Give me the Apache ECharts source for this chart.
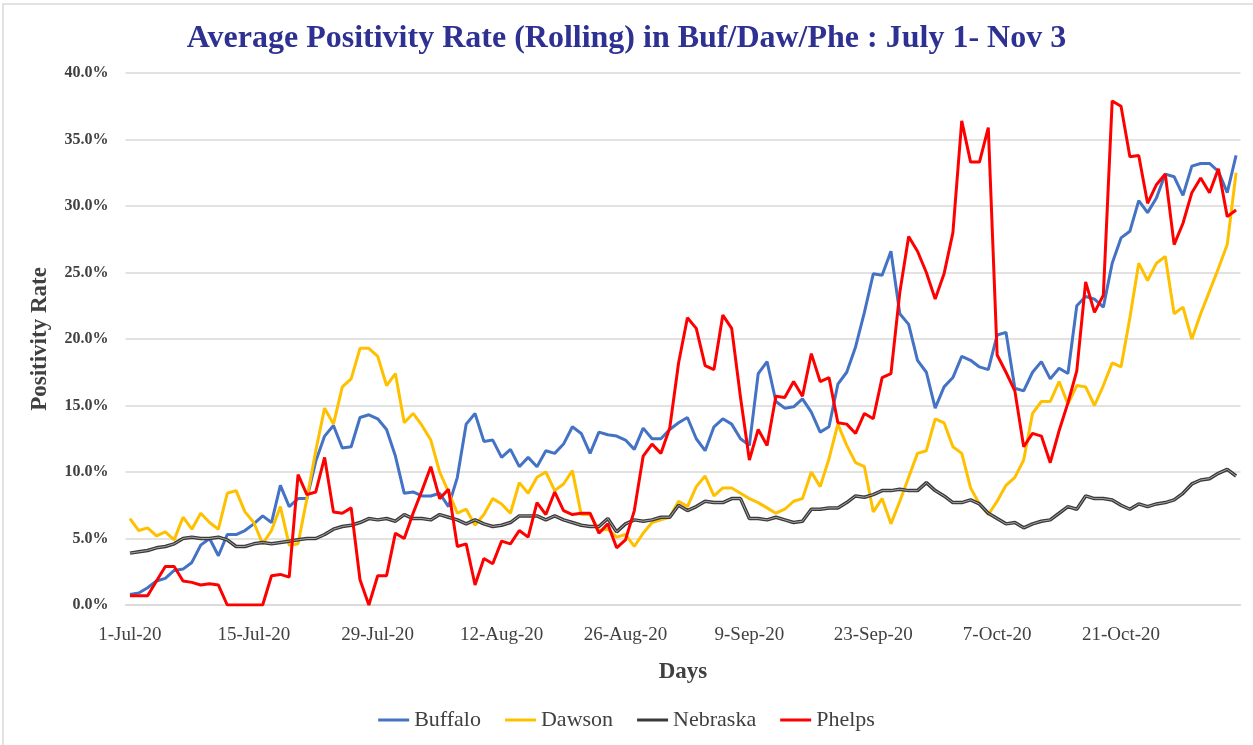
<!DOCTYPE html>
<html>
<head>
<meta charset="utf-8">
<script src="https://cdn.jsdelivr.net/npm/echarts@6/dist/echarts.min.js"></script>
<style>
  html, body { margin: 0; padding: 0; background: #fff; }
  #chart { width: 1253px; height: 745px; }
</style>
</head>
<body>
<div id="chart"></div>
<script>
// days from 1 Jul 2020 to 3 Nov 2020
const monthNames = ['Jan', 'Feb', 'Mar', 'Apr', 'May', 'Jun', 'Jul', 'Aug', 'Sep', 'Oct', 'Nov', 'Dec'];
const days = [];
for (let i = 0; i < 126; i++) {
  const d = new Date(2020, 6, 1 + i);
  days.push(d.getDate() + '-' + monthNames[d.getMonth()] + '-20');
}

const seriesNames = ['Buffalo', 'Dawson', 'Nebraska', 'Phelps'];

const buffalo = [
  0.8, 0.9, 1.3, 1.8, 2.0, 2.6, 2.7, 3.2, 4.5, 5.0, 3.7, 5.3, 5.3, 5.6, 6.1, 6.7, 6.2, 9.0, 7.4, 8.0, 8.0, 10.8,
  12.7, 13.5, 11.8, 11.9, 14.1, 14.3, 14.0, 13.2, 11.2, 8.4, 8.5, 8.2, 8.2, 8.4, 7.4, 9.6, 13.6, 14.4, 12.3, 12.4, 11.1, 11.7,
  10.4, 11.1, 10.4, 11.6, 11.4, 12.1, 13.4, 12.9, 11.4, 13.0, 12.8, 12.7, 12.4, 11.7, 13.3, 12.5, 12.5, 13.2, 13.7, 14.1, 12.5,
  11.6, 13.4, 14.0, 13.6, 12.5, 12.0, 17.4, 18.3, 15.3, 14.8, 14.9, 15.5, 14.5, 13.0, 13.4, 16.6, 17.5, 19.4, 22.0, 24.9, 24.8, 26.6,
  21.9, 21.1, 18.4, 17.5, 14.8, 16.4, 17.1, 18.7, 18.4, 17.9, 17.7, 20.3, 20.5, 16.3, 16.1, 17.5, 18.3, 17.0, 17.8, 17.4, 22.5,
  23.2, 23.0, 22.4, 25.7, 27.6, 28.1, 30.4, 29.5, 30.6, 32.4, 32.2, 30.8, 33.0, 33.2, 33.2, 32.6, 31.0, 33.8
];

const dawson = [
  6.5, 5.6, 5.8, 5.2, 5.5, 4.9, 6.6, 5.7, 6.9, 6.2, 5.7, 8.4, 8.6, 7.0, 6.2, 4.6, 5.6, 7.4, 4.5, 4.6, 8.0, 11.6,
  14.8, 13.6, 16.4, 17.0, 19.3, 19.3, 18.7, 16.5, 17.4, 13.7, 14.4, 13.5, 12.4, 10.0, 8.5, 6.9, 7.2, 6.0, 6.8, 8.0, 7.6, 6.9,
  9.2, 8.4, 9.6, 10.0, 8.6, 9.1, 10.1, 6.8, 6.8, 5.6, 5.7, 5.1, 5.3, 4.4, 5.4, 6.2, 6.4, 6.6, 7.8, 7.4, 8.9,
  9.7, 8.2, 8.8, 8.8, 8.4, 8.0, 7.7, 7.3, 6.9, 7.2, 7.8, 8.0, 10.0, 8.9, 11.0, 13.6, 12.0, 10.7, 10.4, 7.0, 8.0, 6.1,
  7.8, 9.6, 11.4, 11.6, 14.0, 13.7, 11.9, 11.4, 8.8, 7.6, 6.8, 7.8, 9.0, 9.6, 10.9, 14.4, 15.3, 15.3, 16.8, 15.1, 16.5,
  16.4, 15.0, 16.5, 18.2, 17.9, 21.6, 25.7, 24.4, 25.7, 26.2, 21.9, 22.4, 20.0, 21.9, 23.6, 25.3, 27.1, 32.5
];

const nebraska = [
  3.9, 4.0, 4.1, 4.3, 4.4, 4.6, 5.0, 5.1, 5.0, 5.0, 5.1, 4.9, 4.4, 4.4, 4.6, 4.7, 4.6, 4.7, 4.8, 4.9, 5.0, 5.0,
  5.3, 5.7, 5.9, 6.0, 6.2, 6.5, 6.4, 6.5, 6.3, 6.8, 6.5, 6.5, 6.4, 6.8, 6.6, 6.4, 6.1, 6.4, 6.1, 5.9, 6.0, 6.2,
  6.7, 6.7, 6.7, 6.4, 6.7, 6.4, 6.2, 6.0, 5.9, 5.9, 6.5, 5.5, 6.1, 6.4, 6.3, 6.4, 6.6, 6.6, 7.5, 7.1, 7.4,
  7.8, 7.7, 7.7, 8.0, 8.0, 6.5, 6.5, 6.4, 6.6, 6.4, 6.2, 6.3, 7.2, 7.2, 7.3, 7.3, 7.7, 8.2, 8.1, 8.3, 8.6, 8.6,
  8.7, 8.6, 8.6, 9.2, 8.6, 8.2, 7.7, 7.7, 7.9, 7.6, 6.9, 6.5, 6.1, 6.2, 5.8, 6.1, 6.3, 6.4, 6.9, 7.4, 7.2,
  8.2, 8.0, 8.0, 7.9, 7.5, 7.2, 7.6, 7.4, 7.6, 7.7, 7.9, 8.4, 9.1, 9.4, 9.5, 9.9, 10.2, 9.7
];

const phelps = [
  0.7, 0.7, 0.7, 1.8, 2.9, 2.9, 1.8, 1.7, 1.5, 1.6, 1.5, 0, 0, 0, 0, 0, 2.2, 2.3, 2.1, 9.8, 8.3, 8.5,
  11.1, 7.0, 6.9, 7.3, 1.9, 0, 2.2, 2.2, 5.4, 5.0, 6.9, 8.6, 10.4, 8.0, 8.7, 4.4, 4.6, 1.5, 3.5, 3.1, 4.8, 4.6,
  5.6, 5.1, 7.7, 6.8, 8.5, 7.1, 6.8, 6.9, 6.9, 5.4, 6.1, 4.3, 4.9, 7.1, 11.2, 12.1, 11.4, 13.3, 18.2, 21.6, 20.8,
  18.0, 17.7, 21.8, 20.8, 15.6, 10.9, 13.2, 12.0, 15.7, 15.6, 16.8, 15.7, 18.9, 16.8, 17.1, 13.7, 13.6, 12.9, 14.4, 14.0, 17.1, 17.4,
  23.5, 27.7, 26.6, 25.0, 23.0, 24.9, 28.0, 36.4, 33.3, 33.3, 35.9, 18.8, 17.5, 16.1, 11.9, 12.9, 12.7, 10.7, 13.1, 15.2, 17.6,
  24.3, 22.0, 23.3, 37.9, 37.5, 33.7, 33.8, 30.2, 31.6, 32.4, 27.1, 28.7, 31.0, 32.1, 31.0, 32.8, 29.2, 29.7
];

const colors = ['#4472C4', '#FFC000', '#3A3A3A', '#FF0000'];
const serif = "'Liberation Serif', 'DejaVu Serif', serif";

const chart = echarts.init(document.getElementById('chart'));

chart.setOption({
  animation: false,
  textStyle: { fontFamily: serif },
  title: {
    text: 'Average Positivity Rate (Rolling) in Buf/Daw/Phe : July 1- Nov 3',
    left: 'center',
    top: 18,
    textStyle: { fontFamily: serif, fontSize: 32, fontWeight: 'bold', color: '#2E3192' }
  },
  legend: {
    data: seriesNames,
    bottom: 9,
    left: 'center',
    icon: 'rect',
    itemWidth: 31,
    itemHeight: 3,
    itemGap: 24,
    textStyle: { fontFamily: serif, fontSize: 22, color: '#404040' }
  },
  grid: {
    left: 125.5,
    right: 12.5,
    top: 73,
    bottom: 140,
    outerBoundsMode: 'none'
  },
  xAxis: {
    type: 'category',
    data: days,
    boundaryGap: true,
    name: 'Days',
    nameLocation: 'middle',
    nameGap: 56,
    nameTextStyle: { fontFamily: serif, fontSize: 23, fontWeight: 'bold', color: '#404040' },
    axisLine: { lineStyle: { color: '#D9D9D9', width: 1.5 } },
    axisTick: { interval: 13, length: 9, lineStyle: { color: '#D9D9D9', width: 1.5 } },
    axisLabel: { interval: 13, margin: 21, fontSize: 19, color: '#404040' },
    splitLine: { show: false }
  },
  yAxis: {
    type: 'value',
    min: 0,
    max: 40,
    interval: 5,
    name: 'Positivity Rate',
    nameLocation: 'middle',
    nameGap: 74,
    nameTextStyle: { fontFamily: serif, fontSize: 23, fontWeight: 'bold', color: '#404040' },
    axisLine: { show: false },
    axisTick: { show: false },
    axisLabel: {
      margin: 17,
      fontSize: 16,
      fontWeight: 'bold',
      color: '#404040',
      formatter: v => v.toFixed(1) + '%'
    },
    splitLine: { lineStyle: { color: '#D9D9D9', width: 1.5 } }
  },
  graphic: [{
    type: 'rect',
    shape: { x: 3, y: 4, width: 1300, height: 800 },
    style: { fill: 'none', stroke: '#D9D9D9', lineWidth: 1.5 },
    silent: true
  }],
  series: [
    { name: 'Buffalo', type: 'line', data: buffalo, symbol: 'none', color: colors[0], lineStyle: { width: 3 } },
    { name: 'Dawson', type: 'line', data: dawson, symbol: 'none', color: colors[1], lineStyle: { width: 3 } },
    { name: 'Nebraska', type: 'line', data: nebraska, symbol: 'none', color: colors[2], lineStyle: { width: 3.5 } },
    // light core of the compound Nebraska line
    { type: 'line', data: nebraska, symbol: 'none', silent: true, color: '#A6A6A6', lineStyle: { width: 1 } },
    { name: 'Phelps', type: 'line', data: phelps, symbol: 'none', color: colors[3], lineStyle: { width: 3 } }
  ]
});
</script>
</body>
</html>
